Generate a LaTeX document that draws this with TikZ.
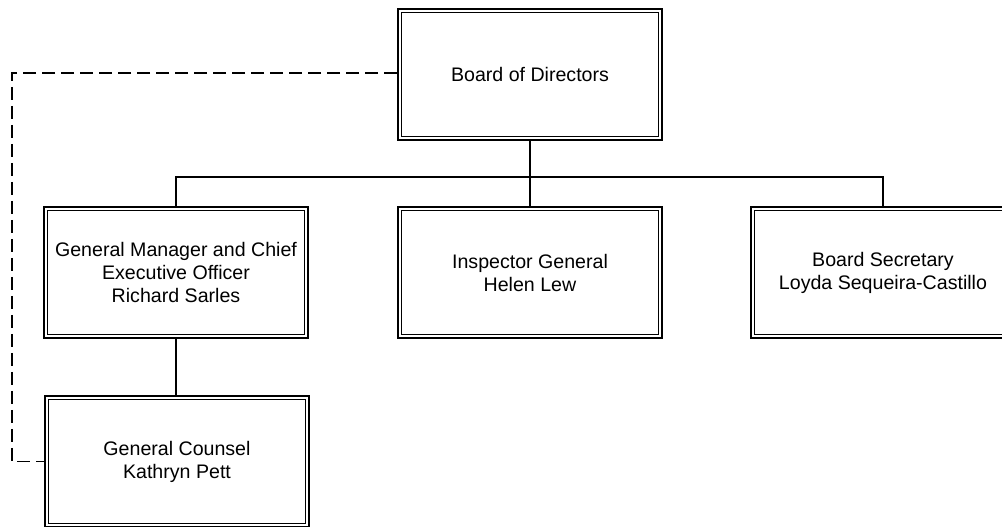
\documentclass[tikz,border=0pt]{standalone}
\usepackage{fontspec}
\setmainfont{Liberation Sans}
\begin{document}
\begin{tikzpicture}[x=1pt,y=-1pt,
  orgbox/.style={draw=black, double=white, double distance=2.4pt, line width=1.4pt,
    minimum width=260.5pt, minimum height=127.5pt, outer sep=2.6pt,
    align=center, inner sep=0pt,
    font=\fontsize{19.6}{23}\selectfont},
  link/.style={line width=1.6pt},
  dotted link/.style={line width=1.4pt, dash pattern=on 13pt off 6pt}]
  \clip (0,0) rectangle (1002,527);
  \useasboundingbox (0,0) rectangle (1002,527);
  \fill[white] (0,0) rectangle (1002,527);

  % boxes
  \node[orgbox] (board) at (530,74.5) {Board of Directors};
  \node[orgbox] (gm)    at (176,272.5) {General Manager and Chief\\Executive Officer\\Richard Sarles};
  \node[orgbox] (ig)    at (530,272.5) {Inspector General\\Helen Lew};
  \node[orgbox] (sec)   at (883,272.5) {Board Secretary\\Loyda Sequeira-Castillo};
  \node[orgbox] (gc)    at (177,461.5) {General Counsel\\Kathryn Pett};

  % reporting lines
  \coordinate (bar) at (530,177);
  \draw[link] (board.south) -- (bar);
  \draw[link] (gm.north) |- (bar) -| (sec.north);
  \draw[link] (ig.north) -- (ig.north |- bar);
  \draw[link] (gm.south) -- (gm.south |- gc.north);

  % dotted-line relationship
  \coordinate (bend1) at (12,73);
  \coordinate (bend2) at (12,461.5);
  \draw[dotted link] (board.west |- bend1) -- (bend1) -- (bend2) -- (gc.west);
\end{tikzpicture}
\end{document}
